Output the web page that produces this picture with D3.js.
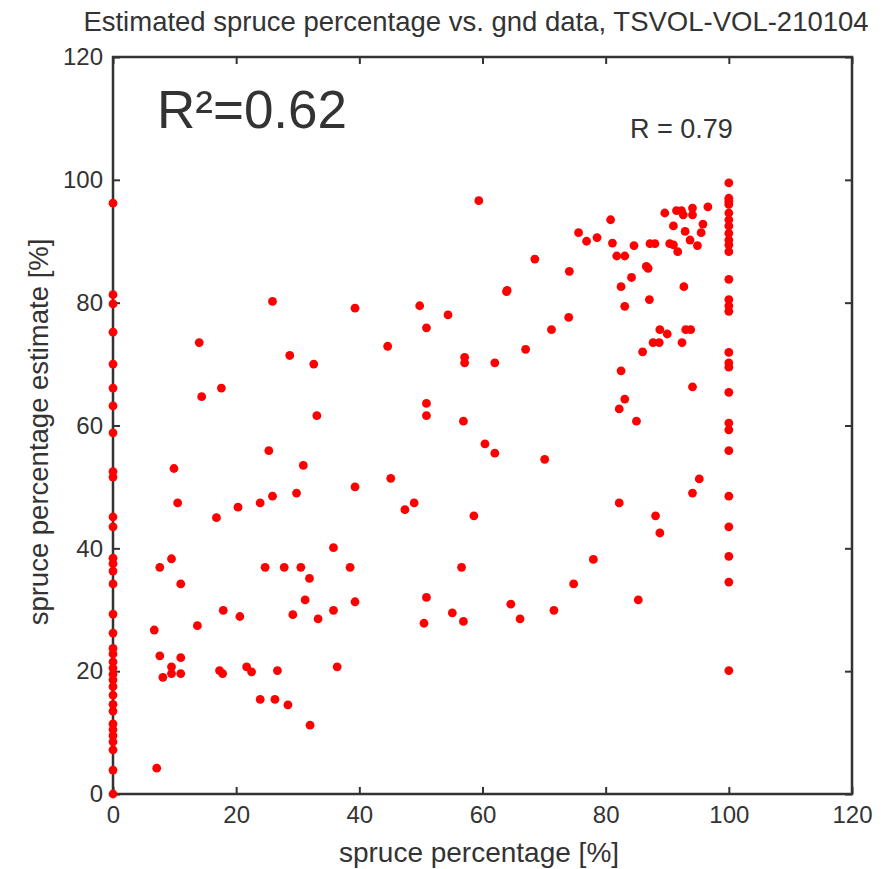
<!DOCTYPE html>
<html>
<head>
<meta charset="utf-8">
<script src="https://cdn.jsdelivr.net/npm/d3@7"></script>
<style>
  body { margin: 0; background: #fff; }
  text { font-family: "Liberation Sans", Arial, sans-serif; fill: #333; }
</style>
</head>
<body>
<div id="chart"></div>
<script>
// ground truth spruce % for plots at 0 and 100, only estimates vary
const zeroColumnEst = [96.2, 81.3, 79.8, 75.2, 70.0, 66.1, 63.2, 58.8, 52.5, 51.6, 45.1, 43.5,
  38.4, 37.5, 36.3, 34.2, 29.3, 26.2, 23.7, 22.8, 21.5, 20.5, 19.5, 18.6, 17.5, 16.1,
  14.6, 13.5, 11.4, 10.5, 9.5, 8.5, 7.2, 3.9, 0];
const fullColumnEst = [99.5, 97.0, 96.5, 96.0, 94.6, 93.5, 92.5, 91.3, 90.2, 89.4, 88.3,
  83.8, 80.5, 79.5, 78.6, 71.9, 70.2, 69.5, 65.4, 60.4, 59.3, 55.9, 48.5, 43.5, 38.7, 34.5, 20.1];

// the rest of the plots: ground % and estimated %
const groundPct = [25.9, 39.3, 14.0, 28.7, 32.6, 17.6, 14.4, 33.1, 25.3, 30.9, 39.3, 9.9, 10.5, 16.8, 20.3, 23.9, 25.9, 29.8,
  7.6, 9.5, 11.0, 6.7, 13.7, 17.9, 20.6, 7.6, 11.0, 9.5, 9.5, 8.1, 11.0, 17.3, 17.8, 21.7, 22.5, 26.7, 7.1,
  23.9, 26.3, 28.4, 32.0, 24.7, 27.8, 30.5, 31.9, 31.2, 29.2, 33.3, 35.8, 38.5, 35.8, 39.3, 36.4,
  49.8, 54.4, 63.9, 74.0, 71.2, 50.9, 44.6, 67.0, 57.1, 57.1, 62.0, 50.9, 50.9, 56.9, 60.4, 62.0, 70.1, 45.1, 48.9, 47.4, 58.6,
  50.9, 50.5, 55.1, 56.9, 56.6, 64.6, 66.1, 71.6, 74.8, 78.0, 88.8, 88.1, 85.3,
  82.5, 92.7, 87.1, 83.1, 88.8, 90.0, 93.0, 93.8, 87.7, 88.7, 92.4, 86.0, 82.5, 94.1, 83.1, 82.2, 85.0, 95.2, 94.1, 82.2,
  80.8, 75.6, 76.9, 78.6, 81.1, 81.8, 83.1, 84.6, 87.2, 88.0, 90.4, 91.0, 91.7, 89.6, 91.5, 92.3, 92.6, 94.1, 94.1, 96.6,
  91.0, 92.9, 93.7, 95.8, 95.5, 94.9, 86.6, 86.9, 84.2, 59.4, 68.5, 74.1, 64.0];
const estPct = [80.2, 79.1, 73.5, 71.4, 70.0, 66.1, 64.7, 61.6, 55.9, 53.5, 50.0, 53.0, 47.4, 45.0, 46.7, 47.4, 48.5, 49.0,
  36.9, 38.3, 34.2, 26.7, 27.4, 29.9, 28.9, 22.5, 22.2, 20.7, 19.6, 19.0, 19.6, 20.1, 19.6, 20.7, 19.9, 20.1, 4.2,
  15.4, 15.4, 14.5, 11.2, 36.9, 36.9, 36.9, 35.1, 31.6, 29.2, 28.5, 40.1, 36.9, 29.9, 31.3, 20.7,
  79.5, 78.0, 81.8, 77.6, 75.6, 75.9, 72.9, 72.4, 71.1, 70.2, 70.2, 63.6, 61.6, 60.7, 57.0, 55.5, 54.5, 51.4, 47.4, 46.3, 45.3,
  32.0, 27.8, 29.5, 28.1, 36.9, 30.9, 28.5, 29.9, 34.2, 38.2, 42.5, 45.3, 31.6,
  82.6, 82.6, 80.5, 79.4, 75.6, 74.9, 75.6, 75.6, 73.5, 73.5, 73.5, 72.0, 68.9, 66.3, 64.3, 62.7, 60.7, 51.3, 49.0, 47.4,
  93.5, 91.4, 90.0, 90.6, 89.7, 87.6, 87.6, 89.3, 89.6, 89.6, 89.6, 89.4, 88.3, 94.6, 95.0, 95.0, 94.3, 95.4, 94.3, 95.6,
  92.5, 91.6, 90.2, 92.8, 91.4, 89.3, 85.9, 85.6, 84.1, 96.6, 87.1, 85.1, 82.0];

const tickVals = [0, 20, 40, 60, 80, 100, 120];
const chartTitle = "Estimated spruce percentage vs. gnd data, TSVOL-VOL-210104";
const xTitle = "spruce percentage [%]";
const yTitle = "spruce percentage estimate [%]";
const r2Text = "R\u00b2=0.62";
const rText = "R = 0.79";

const points = [];
zeroColumnEst.forEach(v => points.push({ x: 0, y: v }));
fullColumnEst.forEach(v => points.push({ x: 100, y: v }));
groundPct.forEach((g, i) => points.push({ x: g, y: estPct[i] }));

const W = 894, H = 869;
const margin = { top: 57, right: 42, bottom: 75, left: 113 };
const width = W - margin.left - margin.right;
const height = H - margin.top - margin.bottom;

const svg = d3.select("#chart").append("svg")
    .attr("width", W)
    .attr("height", H);

const g = svg.append("g")
    .attr("transform", "translate(" + margin.left + "," + margin.top + ")");

const x = d3.scaleLinear().domain([0, 120]).range([0, width]);
const y = d3.scaleLinear().domain([0, 120]).range([height, 0]);

// axes, ticks pointing inward on all four sides
function styleAxis(sel) {
    sel.select(".domain").remove();
    sel.selectAll(".tick line").attr("stroke", "#333").attr("stroke-width", 2);
    sel.selectAll(".tick text").style("font-size", "24px").attr("fill", "#333");
}

g.append("g")
    .attr("transform", "translate(0," + height + ")")
    .call(d3.axisBottom(x).tickValues(tickVals).tickSize(-7).tickPadding(12))
    .call(styleAxis);

g.append("g")
    .call(d3.axisLeft(y).tickValues(tickVals).tickSize(-7).tickPadding(10))
    .call(styleAxis);

g.append("g")
    .call(d3.axisTop(x).tickValues(tickVals).tickSize(-7).tickFormat(""))
    .call(styleAxis);

g.append("g")
    .attr("transform", "translate(" + width + ",0)")
    .call(d3.axisRight(y).tickValues(tickVals).tickSize(-7).tickFormat(""))
    .call(styleAxis);

// frame
g.append("rect")
    .attr("x", 0).attr("y", 0)
    .attr("width", width).attr("height", height)
    .attr("fill", "none")
    .attr("stroke", "#333")
    .attr("stroke-width", 2.5);

// points
g.append("g").selectAll("circle")
    .data(points)
    .join("circle")
    .attr("cx", d => x(d.x))
    .attr("cy", d => y(d.y))
    .attr("r", 4.4)
    .attr("fill", "#ff0000");

// texts
svg.append("text")
    .attr("x", 476)
    .attr("y", 31)
    .attr("text-anchor", "middle")
    .style("font-size", "27.5px")
    .text(chartTitle);

svg.append("text")
    .attr("x", 479)
    .attr("y", 862)
    .attr("text-anchor", "middle")
    .style("font-size", "28px")
    .text(xTitle);

svg.append("text")
    .attr("transform", "translate(48,432) rotate(-90)")
    .attr("text-anchor", "middle")
    .style("font-size", "27.5px")
    .text(yTitle);

g.append("text")
    .attr("x", 44)
    .attr("y", 71)
    .style("font-size", "53px")
    .attr("fill", "#454545")
    .text(r2Text);

g.append("text")
    .attr("x", 517)
    .attr("y", 81)
    .style("font-size", "27px")
    .text(rText);
</script>
</body>
</html>
